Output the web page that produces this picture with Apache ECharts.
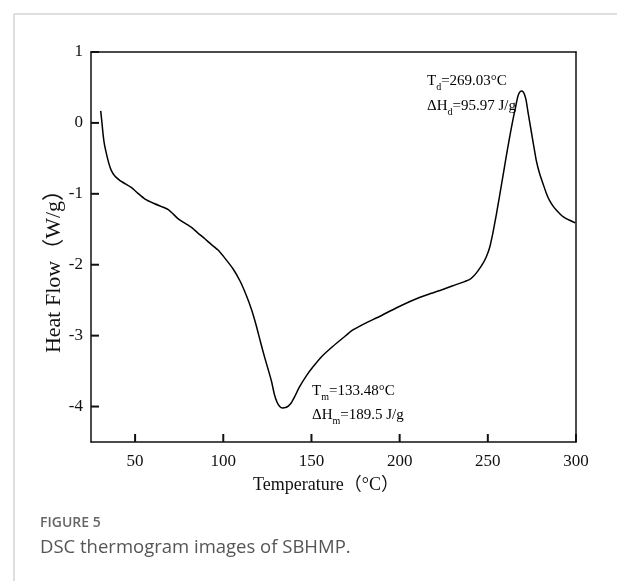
<!DOCTYPE html>
<html>
<head>
<meta charset="utf-8">
<title>DSC thermogram of SBHMP</title>
<script src="https://cdn.jsdelivr.net/npm/echarts@6/dist/echarts.min.js"></script>
<style>
  html, body { margin: 0; padding: 0; background: #fff; }
  #chart { width: 617px; height: 581px; }
</style>
</head>
<body>
<div id="chart"></div>
<script>
// DSC scan: temperature (°C) and heat flow (W/g)
const temperature = [
  30.5, 30.8, 31.3, 31.8, 32.6, 33.7, 35.0, 36.5, 38.5, 41.3,
  44.5, 47.8, 51.5, 55.4, 61.1, 65.0, 68.6, 71.0, 74.3, 78.0,
  81.8, 85.5, 89.4, 93.0, 96.9, 101.0, 105.6, 109.5, 113.2, 116.0,
  118.5, 121.0, 123.5, 125.5, 127.3, 129.0, 130.5, 132.0, 133.5, 135.8,
  137.0, 138.5, 140.5, 143.3, 147.0, 150.9, 156.0, 162.2, 168.0, 173.5,
  181.0, 188.6, 198.0, 208.5, 216.0, 224.5, 232.0, 239.6, 242.0, 244.3,
  246.8, 249.1, 251.0, 252.8, 254.7, 256.6, 258.5, 260.4, 262.3, 264.2,
  265.7, 267.0, 268.0, 269.0, 270.0, 270.8, 271.7, 273.0, 274.5, 276.0,
  277.4, 279.3, 281.2, 283.0, 284.9, 287.2, 289.6, 292.0, 294.4, 297.0,
  299.6
];
const heatFlow = [
  0.17, 0.10, -0.02, -0.15, -0.30, -0.43, -0.56, -0.67, -0.75, -0.81,
  -0.86, -0.91, -0.99, -1.07, -1.14, -1.18, -1.22, -1.27, -1.35, -1.41,
  -1.47, -1.55, -1.63, -1.71, -1.79, -1.91, -2.06, -2.23, -2.44, -2.63,
  -2.84, -3.08, -3.31, -3.48, -3.64, -3.83, -3.94, -4.00, -4.02, -4.01,
  -3.99, -3.95, -3.86, -3.72, -3.57, -3.44, -3.29, -3.15, -3.03, -2.92,
  -2.82, -2.73, -2.61, -2.49, -2.42, -2.35, -2.28, -2.21, -2.16, -2.09,
  -2.00, -1.89, -1.76, -1.56, -1.31, -1.04, -0.76, -0.48, -0.21, 0.04,
  0.22, 0.37, 0.43, 0.45, 0.44, 0.40, 0.32, 0.12, -0.10, -0.32,
  -0.52, -0.71, -0.85, -0.98, -1.09, -1.18, -1.25, -1.31, -1.35, -1.38,
  -1.41
];

// Axis ticks
const xTicks = [50, 100, 150, 200, 250, 300];
const yTicks = [-4, -3, -2, -1, 0, 1];
const xRange = [25, 300];
const yRange = [-4.5, 1];

const serif = "'Liberation Serif', 'Times New Roman', 'Noto Sans CJK SC', serif";
const sans = "'Open Sans', 'Noto Sans', sans-serif";
const axisColor = '#111';
const TICK_LEN = 8;

const chart = echarts.init(document.getElementById('chart'), null, { renderer: 'canvas' });

const subRich = {
  a: { fontFamily: serif, fontSize: 15, color: '#111', lineHeight: 18 },
  s: { fontFamily: serif, fontSize: 10, color: '#111', lineHeight: 12, verticalAlign: 'bottom', padding: [0, 0, -2, 0] }
};

function frameAxisLine() {
  return { show: true, onZero: false, lineStyle: { color: axisColor, width: 1.5 } };
}

const baseGraphics = [
  // page frame
  { type: 'line', shape: { x1: 14, y1: 14, x2: 617, y2: 14 }, style: { stroke: '#d4d4d4', lineWidth: 1.5 } },
  { type: 'line', shape: { x1: 14, y1: 14, x2: 14, y2: 581 }, style: { stroke: '#d4d4d4', lineWidth: 1.5 } },
  // axis titles
  { type: 'text', x: 326, y: 485, style: { text: 'Temperature（°C）', fontFamily: serif, fontSize: 18, fill: '#111', align: 'center', verticalAlign: 'middle' } },
  { type: 'text', x: 54, y: 266, rotation: Math.PI / 2, style: { text: 'Heat Flow（W/g）', fontFamily: serif, fontSize: 22, fill: '#111', align: 'center', verticalAlign: 'middle' } },
  // peak annotations
  { type: 'text', x: 427, y: 81, style: { text: '{a|T}{s|d}{a|=269.03°C}', rich: subRich, verticalAlign: 'middle' } },
  { type: 'text', x: 427, y: 106, style: { text: '{a|ΔH}{s|d}{a|=95.97 J/g}', rich: subRich, verticalAlign: 'middle' } },
  { type: 'text', x: 312, y: 391, style: { text: '{a|T}{s|m}{a|=133.48°C}', rich: subRich, verticalAlign: 'middle' } },
  { type: 'text', x: 312, y: 415, style: { text: '{a|ΔH}{s|m}{a|=189.5 J/g}', rich: subRich, verticalAlign: 'middle' } },
  // caption
  { type: 'text', x: 40, y: 523, style: { text: 'FIGURE 5', fontFamily: sans, fontWeight: 600, fontSize: 14, fill: '#666', verticalAlign: 'middle' } },
  { type: 'text', x: 40, y: 548, style: { text: 'DSC thermogram images of SBHMP.', fontFamily: sans, fontSize: 18.5, fill: '#555', verticalAlign: 'middle' } }
];

chart.setOption({
  backgroundColor: '#fff',
  animation: false,
  grid: { left: 91, right: 41, top: 52, bottom: 139 },
  xAxis: [{
    type: 'value', min: xRange[0], max: xRange[1], position: 'bottom',
    axisLine: frameAxisLine(),
    axisTick: { show: false },
    axisLabel: { customValues: xTicks, fontFamily: serif, fontSize: 17, color: '#111', margin: 11 },
    splitLine: { show: false }
  }, {
    // top edge of the frame
    type: 'value', min: xRange[0], max: xRange[1], position: 'top',
    axisLine: frameAxisLine(), axisTick: { show: false }, axisLabel: { show: false }, splitLine: { show: false }
  }],
  yAxis: [{
    type: 'value', min: yRange[0], max: yRange[1], position: 'left',
    axisLine: frameAxisLine(),
    axisTick: { show: false },
    axisLabel: { customValues: yTicks, fontFamily: serif, fontSize: 17, color: '#111', margin: 8 },
    splitLine: { show: false }
  }, {
    // right edge of the frame
    type: 'value', min: yRange[0], max: yRange[1], position: 'right',
    axisLine: frameAxisLine(), axisTick: { show: false }, axisLabel: { show: false }, splitLine: { show: false }
  }],
  series: [{
    type: 'line',
    xAxisIndex: 0, yAxisIndex: 0,
    data: temperature.map((t, i) => [t, heatFlow[i]]),
    showSymbol: false,
    smooth: 0.2,
    lineStyle: { color: '#000', width: 1.5 }
  }],
  graphic: baseGraphics
});

// Inward-pointing tick marks, placed through the axis scales
const toX = v => chart.convertToPixel({ xAxisIndex: 0 }, v);
const toY = v => chart.convertToPixel({ yAxisIndex: 0 }, v);
const bottomY = toY(yRange[0]);
const leftX = toX(xRange[0]);
const tickLine = { stroke: axisColor, lineWidth: 2 };
const tickGraphics = [];
xTicks.forEach(v => {
  const px = toX(v);
  tickGraphics.push({ type: 'line', z: 100, shape: { x1: px, y1: bottomY, x2: px, y2: bottomY - TICK_LEN }, style: tickLine });
});
yTicks.forEach(v => {
  const py = toY(v);
  tickGraphics.push({ type: 'line', z: 100, shape: { x1: leftX, y1: py, x2: leftX + TICK_LEN, y2: py }, style: tickLine });
});
chart.setOption({ graphic: baseGraphics.concat(tickGraphics) });
</script>
</body>
</html>
